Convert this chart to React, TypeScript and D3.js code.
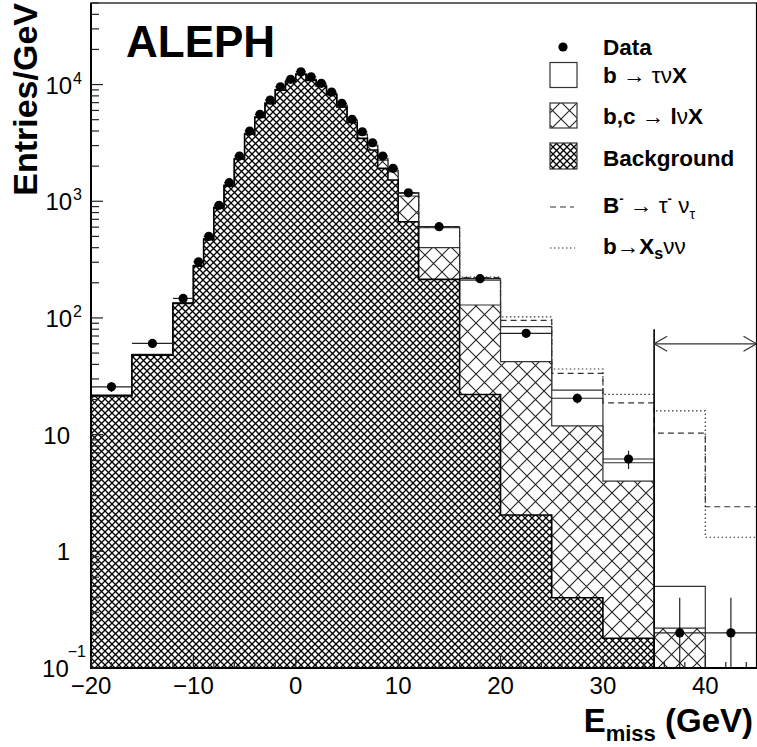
import React from 'react';
import * as d3 from 'd3';

// bin edges (GeV)
const binEdges = [-20, -16, -12, -10, -9, -8, -7, -6, -5, -4, -3, -2, -1, 0, 1, 2, 3, 4, 5, 6, 7, 8, 9, 10, 12, 16, 20, 25, 30, 35, 40, 45];

// Monte Carlo components, entries/GeV
const background = [21.5, 48, 133, 278, 472, 878, 1355, 2300, 3760, 5220, 6880, 8960, 10600, 12200, 10860, 9680, 8180, 6430, 4730, 3459, 2746, 1914, 1520, 667, 214, 22.1, 2.05, 0.4, 0.18, 0.05, 0];
const semileptonic = [0.2, 0.6, 1.5, 3, 5, 10, 17, 25, 45, 60, 80, 110, 140, 170, 170, 180, 185, 200, 200, 250, 235, 336, 270, 442, 186, 107, 40.2, 11.5, 3.82, 0.17, 0.02];
const tauNuX = [0.1, 0.2, 0.5, 1, 2, 3, 5, 8, 12, 17, 25, 30, 40, 50, 50, 46, 43, 40, 34, 56, 52, 83, 61, 66, 193, 82, 41.9, 12.2, 1.74, 0.28, 0.03];

// data
const dataValues = [25.7, 60.5, 147, 303, 500, 922, 1442, 2438, 3998, 5559, 7365, 9572, 11080, 12880, 11660, 10240, 8630, 6900, 5035, 3942, 3171, 2438, 1914, 1180, 605, 217, 73.8, 20.5, 6.18, 0.2, 0.2];
const dataErrors = [2.5, 3.9, 8.6, 17, 22, 30, 38, 49, 63, 75, 86, 98, 105, 113, 108, 101, 93, 83, 71, 63, 56, 49, 44, 24, 12, 7.4, 3.8, 2.0, 1.1, 0.2, 0.2];

// signal hypotheses drawn on top of the total, tail only
const signalEdges = [10, 12, 16, 20, 25, 30, 35, 40, 45];
const btaunuValues = [1180, 600, 222, 95.3, 33.5, 18.7, 10.3, 2.41];
const xsnunuValues = [1185, 603, 224, 102, 36.5, 22.1, 16.0, 1.32];

// selection cut annotation
const cutValue = 35;
const cutLineTop = 80;
const cutArrowLevel = 60;

const xTicks = [-20, -10, 0, 10, 20, 30, 40];
const xTickLabels = ['\u221220', '\u221210', '0', '10', '20', '30', '40'];
const yTickValues = [0.1, 1, 10, 100, 1000, 10000];
const yTickBases = ['10', '1', '10', '10', '10', '10'];
const yTickExps = ['\u22121', '', '', '2', '3', '4'];

const W = 757;
const H = 747;
const FONT = '"Liberation Sans", Arial, Helvetica, sans-serif';

const x = d3.scaleLinear().domain([-20, 45]).range([91, 756.5]);
const y = d3.scaleLog().domain([0.1, 5e4]).range([668, 3]);
const yBottom = 668;

const yPos = (v: number) => y(Math.max(v, 1e-4));

function stepPath(edges: number[], vals: number[], fromBottom: boolean, close: boolean) {
  let d = '';
  vals.forEach((v, i) => {
    const x0 = x(edges[i]);
    const x1 = x(edges[i + 1]);
    const yy = yPos(v);
    if (i === 0) d += fromBottom ? `M${x0},${yBottom + 40}L${x0},${yy}` : `M${x0},${yy}`;
    else d += `L${x0},${yy}`;
    d += `L${x1},${yy}`;
  });
  if (fromBottom) d += `L${x(edges[edges.length - 1])},${yBottom + 40}`;
  if (close) d += 'Z';
  return d;
}

const App: React.FC = () => {
  const rows = background.map((b, i) => ({ bg: b, lnu: semileptonic[i], tau: tauNuX[i] }));
  const stacked = d3.stack<any>().keys(['bg', 'lnu', 'tau'])(rows);
  const tops = stacked.map(s => s.map(d => d[1]));
  const [bgTop, lnuTop, totalTop] = tops;

  const yTicks = y.ticks().filter(v => v >= 0.1 && v <= 5e4);
  const isMajor = (v: number) => Math.abs(Math.log10(v) - Math.round(Math.log10(v))) < 1e-6;
  const xMinor = d3.range(-18, 45, 2).filter(v => v % 10 !== 0);

  const layers = [
    { vals: totalTop, fill: 'none' },
    { vals: lnuTop, fill: 'url(#hatchSparse)' },
    { vals: bgTop, fill: 'url(#hatchDense)' },
  ];

  const cx = x(cutValue);
  const ay = y(cutArrowLevel);

  return (
    <svg width={W} height={H} style={{ position: 'absolute', left: 0, top: 0, background: '#fff' }} fontFamily={FONT}>
      <defs>
        <pattern id="hatchDense" patternUnits="userSpaceOnUse" width={7} height={7}>
          <path d="M0,0L7,7M7,0L0,7" stroke="#000" strokeWidth={1.3} />
        </pattern>
        <pattern id="hatchSparse" patternUnits="userSpaceOnUse" width={17} height={17}>
          <path d="M0,0L17,17M17,0L0,17" stroke="#222" strokeWidth={1.1} />
        </pattern>
        <clipPath id="plotClip">
          <rect x={91} y={3} width={665.5} height={665} />
        </clipPath>
      </defs>

      <g clipPath="url(#plotClip)">
        {layers.map((l, k) => (
          <g key={k}>
            <path d={stepPath(binEdges, l.vals, true, true)} fill="#fff" />
            {l.fill !== 'none' && <path d={stepPath(binEdges, l.vals, true, true)} fill={l.fill} />}
            <path d={stepPath(binEdges, l.vals, true, false)} fill="none" stroke={k === 2 ? '#000' : '#333'} strokeWidth={k === 2 ? 1.6 : 1.2} />
          </g>
        ))}

        <path d={stepPath(signalEdges, btaunuValues, false, false)} fill="none" stroke="#333" strokeWidth={1.2} strokeDasharray="6,4" />
        <path d={stepPath(signalEdges, xsnunuValues, false, false)} fill="none" stroke="#333" strokeWidth={1.2} strokeDasharray="1.5,2.5" />

        {/* data */}
        {dataValues.map((v, i) => {
          const xc = x((binEdges[i] + binEdges[i + 1]) / 2);
          const yc = y(v);
          const lo = v - dataErrors[i];
          return (
            <g key={i}>
              <line x1={x(binEdges[i])} x2={x(binEdges[i + 1])} y1={yc} y2={yc} stroke="#222" strokeWidth={1.2} />
              <line x1={xc} x2={xc} y1={y(v + dataErrors[i])} y2={lo > 0.001 ? y(lo) : yBottom + 10} stroke="#222" strokeWidth={1.2} />
              <circle cx={xc} cy={yc} r={4.6} fill="#000" />
            </g>
          );
        })}

        {/* cut */}
        <line x1={cx} x2={cx} y1={y(cutLineTop)} y2={yBottom} stroke="#000" strokeWidth={1.6} />
        <line x1={cx} x2={x(45)} y1={ay} y2={ay} stroke="#333" strokeWidth={1.2} />
        <path d={`M${cx + 13},${ay - 7.5}L${cx},${ay}L${cx + 13},${ay + 7.5}`} fill="none" stroke="#333" strokeWidth={1.2} />
        <path d={`M${x(45) - 13},${ay - 7.5}L${x(45)},${ay}L${x(45) - 13},${ay + 7.5}`} fill="none" stroke="#333" strokeWidth={1.2} />
      </g>

      {/* frame */}
      <rect x={91} y={3} width={665.5} height={665} fill="none" stroke="#000" strokeWidth={1.2} />
      <line x1={91} x2={91} y1={3} y2={669} stroke="#000" strokeWidth={2} />
      <line x1={90} x2={757} y1={668} y2={668} stroke="#000" strokeWidth={2} />

      {/* y ticks */}
      {yTicks.map((v, i) => (
        <line key={i} x1={91} x2={91 + (isMajor(v) ? 12 : 8)} y1={y(v)} y2={y(v)} stroke="#222" strokeWidth={1.2} />
      ))}
      {yTickValues.map((v, i) => {
        const exp = yTickExps[i];
        if (!exp) {
          return (
            <text key={i} x={70} y={y(v) + 9} fontSize={24} textAnchor="end">{yTickBases[i]}</text>
          );
        }
        const neg = exp.startsWith('\u2212');
        return (
          <text key={i} x={neg ? 86 : 82} y={y(v) + 9} fontSize={24} textAnchor="end">
            {yTickBases[i]}
            <tspan fontSize={16} dy={neg ? -20 : -10} dx={neg ? -1 : 1}>{exp}</tspan>
          </text>
        );
      })}

      {/* x ticks */}
      {xTicks.map((v, i) => (
        <g key={i}>
          <line x1={x(v)} x2={x(v)} y1={668} y2={656} stroke="#222" strokeWidth={1.2} />
          <text x={x(v)} y={694} fontSize={24} textAnchor="middle">{xTickLabels[i]}</text>
        </g>
      ))}
      {xMinor.map((v, i) => (
        <line key={i} x1={x(v)} x2={x(v)} y1={668} y2={662} stroke="#222" strokeWidth={1.2} />
      ))}

      {/* axis titles */}
      <text x={753} y={732} fontSize={33} fontWeight="bold" textAnchor="end">
        E<tspan fontSize={22} dy={9}>miss</tspan><tspan dy={-9}> (GeV)</tspan>
      </text>
      <text transform="translate(37,3) rotate(-90)" fontSize={34} fontWeight="bold" textAnchor="end">Entries/GeV</text>

      <text x={126} y={57} fontSize={44} fontWeight="bold">ALEPH</text>

      {/* legend */}
      <g fontSize={22.5} fontWeight="bold">
        <circle cx={563} cy={47} r={4.6} fill="#000" />
        <text x={603} y={55}>Data</text>

        <rect x={550} y={62.5} width={27} height={25} fill="#fff" stroke="#333" strokeWidth={1.2} />
        <text x={603} y={83}>b<tspan fontWeight="normal"> {'\u2192'} {'\u03C4\u03BD'}</tspan>X</text>

        <rect x={550} y={103} width={27} height={25} fill="#fff" />
        <rect x={550} y={103} width={27} height={25} fill="url(#hatchSparse)" stroke="#333" strokeWidth={1.2} />
        <text x={603} y={124}>b,c<tspan fontWeight="normal"> {'\u2192'} </tspan>l<tspan fontWeight="normal">{'\u03BD'}</tspan>X</text>

        <rect x={550} y={143} width={27} height={26} fill="#fff" />
        <rect x={550} y={143} width={27} height={26} fill="url(#hatchDense)" stroke="#333" strokeWidth={1.2} />
        <text x={603} y={166}>Background</text>

        <line x1={550} x2={574} y1={207} y2={207} stroke="#333" strokeWidth={1.2} strokeDasharray="6,4" />
        <text x={603} y={213}>
          B<tspan fontSize={13} dy={-10}>-</tspan>
          <tspan fontWeight="normal" dy={10}> {'\u2192'} {'\u03C4'}</tspan>
          <tspan fontSize={13} dy={-10}>-</tspan>
          <tspan fontWeight="normal" dy={10}> {'\u03BD'}</tspan>
          <tspan fontWeight="normal" fontSize={14} dy={6}>{'\u03C4'}</tspan>
        </text>

        <line x1={550} x2={575} y1={248} y2={248} stroke="#333" strokeWidth={1.2} strokeDasharray="1.5,2.5" />
        <text x={603} y={254}>
          b<tspan fontWeight="normal">{'\u2192'}</tspan>X<tspan fontSize={16} dy={5}>s</tspan>
          <tspan fontWeight="normal" dy={-5}>{'\u03BD\u03BD'}</tspan>
        </text>
      </g>
    </svg>
  );
};

export default App;
